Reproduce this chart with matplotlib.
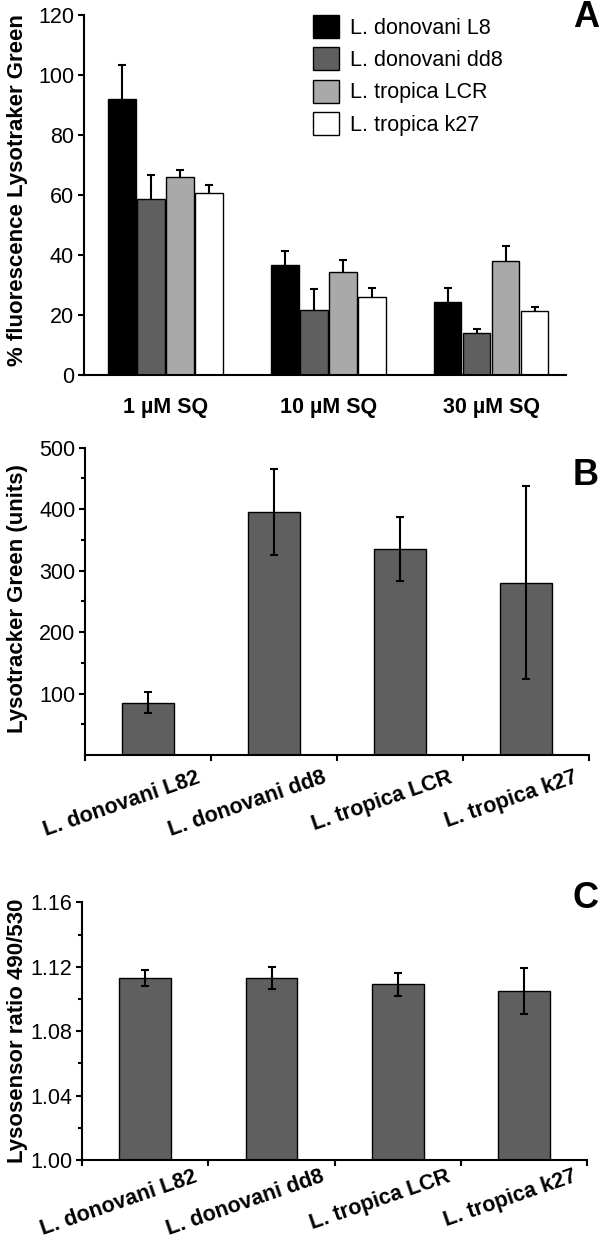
import matplotlib
matplotlib.use("Agg")
import matplotlib.pyplot as plt
from matplotlib.patches import Patch
from matplotlib.ticker import FixedLocator, NullFormatter
import numpy as np

plt.rcParams['font.family'] = ['Liberation Sans', 'DejaVu Sans']

# ---------------- data ----------------
doses = ['1 µM SQ', '10 µM SQ', '30 µM SQ']
series_names = ['L. donovani L8', 'L. donovani dd8', 'L. tropica LCR', 'L. tropica k27']
a_L8 = [92.1, 36.7, 24.3]
a_L8_err = [11.2, 4.6, 4.6]
a_dd8 = [58.7, 21.8, 14.0]
a_dd8_err = [8.0, 6.8, 1.3]
a_LCR = [66.0, 34.3, 38.1]
a_LCR_err = [2.4, 4.0, 5.0]
a_k27 = [60.6, 25.9, 21.4]
a_k27_err = [2.7, 3.1, 1.2]
a_yticks = [0, 20, 40, 60, 80, 100, 120]

strains = ['L. donovani L82', 'L. donovani dd8', 'L. tropica LCR', 'L. tropica k27']
b_vals = [85, 396, 335, 280]
b_err = [17, 70, 52, 157]
b_yticks = [100, 200, 300, 400, 500]

c_vals = [1.113, 1.113, 1.109, 1.105]
c_err = [0.005, 0.007, 0.007, 0.0145]
c_yticks = [1.00, 1.04, 1.08, 1.12, 1.16]

# ---------------- figure ----------------
W, H = 600, 1242
fig = plt.figure(figsize=(6.0, 12.42), dpi=100)

def box(l, t, r, b):
    return [l / W, 1 - b / H, (r - l) / W, (b - t) / H]

DARK = '#5f5f5f'
colors_a = ['#000000', DARK, '#a9a9a9', '#ffffff']
TICK_FS = 15.5
LAB_FS = 16

def style_axes(ax):
    for s in ['top', 'right']:
        ax.spines[s].set_visible(False)
    for s in ['left', 'bottom']:
        ax.spines[s].set_linewidth(1.5)
        ax.spines[s].set_color('black')
    ax.tick_params(axis='y', which='major', direction='out', length=4, width=1.5,
                   pad=3, labelsize=TICK_FS)
    ax.tick_params(axis='y', which='minor', direction='out', length=3, width=1.5)

# ---------------- Panel A ----------------
axA = fig.add_axes(box(83.8, 15, 566, 375))
style_axes(axA)
gx = np.arange(len(doses))
step = 0.178
bw = 0.170
vals = [a_L8, a_dd8, a_LCR, a_k27]
errs = [a_L8_err, a_dd8_err, a_LCR_err, a_k27_err]
for j in range(4):
    xs = gx + (j - 1.5) * step
    axA.bar(xs, vals[j], width=bw, color=colors_a[j], edgecolor='black',
            linewidth=1.0, zorder=2)
    eb = axA.errorbar(xs, vals[j], yerr=[np.zeros(3), errs[j]], fmt='none',
                      ecolor='black', elinewidth=1.5, capsize=3, capthick=1.5, zorder=3)
    eb[1][0].set_visible(False)
axA.set_xlim(-0.502, 2.46)
axA.set_ylim(0, 120)
axA.yaxis.set_major_locator(FixedLocator(a_yticks))
axA.set_xticks(gx)
axA.set_xticklabels(doses, fontweight='bold', fontsize=TICK_FS)
axA.tick_params(axis='x', length=0, pad=16)

handles = [Patch(facecolor=c, edgecolor='black', linewidth=1.0) for c in colors_a]
axA.legend(handles, series_names, loc='upper left',
           bbox_to_anchor=(312.7 / W, 1 - 15 / H), bbox_transform=fig.transFigure,
           frameon=False, fontsize=TICK_FS, handlelength=1.21, handleheight=1.26,
           handletextpad=0.52, labelspacing=0.40, borderpad=0, borderaxespad=0)

# ---------------- Panel B / C helper ----------------
def strain_panel(ax, values, errors, ylim, yticks, minor, fmt, label_drop_px):
    style_axes(ax)
    xs = np.arange(len(strains))
    ax.bar(xs, values, width=0.41, color=DARK, edgecolor='black', linewidth=1.0, zorder=2)
    ax.errorbar(xs, values, yerr=errors, fmt='none', ecolor='black',
                elinewidth=1.5, capsize=3, capthick=1.5, zorder=3)
    ax.set_xlim(-0.5, len(strains) - 0.5)
    ax.set_ylim(*ylim)
    ax.yaxis.set_major_locator(FixedLocator(yticks))
    ax.yaxis.set_minor_locator(FixedLocator(minor))
    ax.set_yticklabels([fmt(v) for v in yticks])
    ax.xaxis.set_major_locator(FixedLocator(np.arange(len(strains) + 1) - 0.5))
    ax.xaxis.set_major_formatter(NullFormatter())
    ax.tick_params(axis='x', direction='out', length=4, width=1.5)
    ax_h_px = ax.get_position().height * H
    for i, name in enumerate(strains):
        ax.text(i + 0.38, -label_drop_px / ax_h_px, name, transform=ax.get_xaxis_transform(),
                rotation=19, rotation_mode='anchor', ha='right', va='top',
                fontsize=15.5, fontweight='bold')

# ---------------- Panel B ----------------
axB = fig.add_axes(box(85, 447.7, 589, 755))
strain_panel(axB, b_vals, b_err, (0, 500), b_yticks, [50, 150, 250, 350, 450],
             lambda v: f'{v:d}', 12)

# ---------------- Panel C ----------------
axC = fig.add_axes(box(82, 902.3, 587.4, 1160))
strain_panel(axC, c_vals, c_err, (1.00, 1.16), c_yticks, [1.02, 1.06, 1.10, 1.14],
             lambda v: f'{v:.2f}', 6)

# ---------------- y labels ----------------
fig.text(17.5 / W, 1 - 190 / H, '% fluorescence Lysotraker Green', rotation=90,
         ha='center', va='center', fontsize=LAB_FS, fontweight='bold')
fig.text(18 / W, 1 - 599 / H, 'Lysotracker Green (units)', rotation=90,
         ha='center', va='center', fontsize=LAB_FS, fontweight='bold')
fig.text(17.5 / W, 1 - 1031 / H, 'Lysosensor ratio 490/530', rotation=90,
         ha='center', va='center', fontsize=LAB_FS, fontweight='bold')

# ---------------- panel letters ----------------
for letter, yb in [('A', 27), ('B', 485), ('C', 908)]:
    fig.text(599 / W, 1 - yb / H, letter, ha='right', va='baseline',
             fontsize=26, fontweight='bold')

fig.savefig('out.png', dpi=100, facecolor='white')
